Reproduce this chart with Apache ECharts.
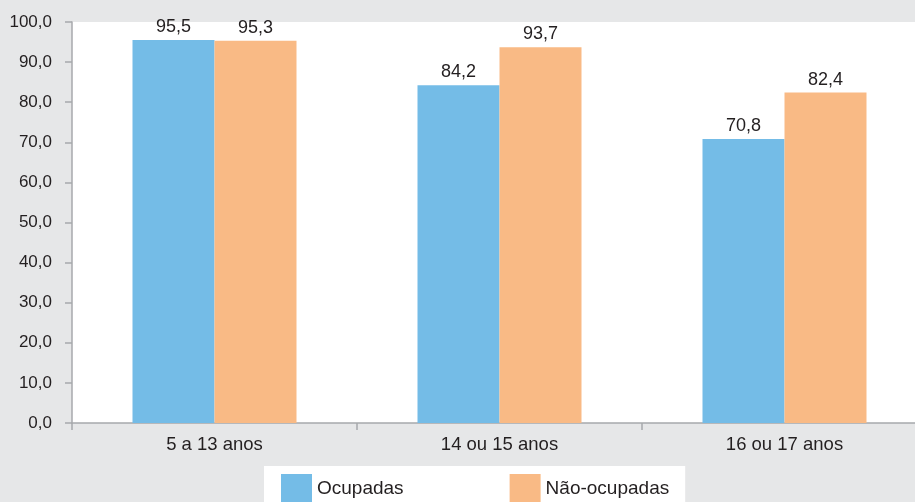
<!DOCTYPE html>
<html>
<head>
<meta charset="utf-8">
<script src="https://cdn.jsdelivr.net/npm/echarts@6/dist/echarts.min.js"></script>
<style>
html,body{margin:0;padding:0;background:#e6e7e8;overflow:hidden;width:915px;height:502px;}
#c{width:927px;height:502px;}
</style>
</head>
<body>
<div id="c"></div>
<script>
const categories = ['5 a 13 anos', '14 ou 15 anos', '16 ou 17 anos'];
const ocupadas = [95.5, 84.2, 70.8];
const naoOcupadas = [95.3, 93.7, 82.4];
const seriesNames = ['Ocupadas', 'Não-ocupadas'];

const fmt = v => v.toFixed(1).replace('.', ',');
const FONT = '"Liberation Sans", Arial, sans-serif';
const TXT = '#231f20';

const chart = echarts.init(document.getElementById('c'), null, {renderer: 'canvas'});
chart.setOption({
  animation: false,
  backgroundColor: '#e6e7e8',
  textStyle: {fontFamily: FONT},
  grid: {left: 72, right: 0, top: 22, bottom: 79, show: true, backgroundColor: '#ffffff', borderWidth: 0, containLabel: false},
  legend: {
    left: 264, top: 466,
    backgroundColor: '#ffffff',
    padding: [8, 16, 8, 17],
    itemWidth: 31, itemHeight: 30, itemGap: 106,
    icon: 'rect',
    textStyle: {fontFamily: FONT, fontSize: 19, color: TXT},
    data: seriesNames
  },
  xAxis: {
    type: 'category',
    data: categories,
    axisLine: {show: true, lineStyle: {color: '#a7a9ac', width: 1.5}},
    axisTick: {show: true, length: 7, lineStyle: {color: '#a7a9ac', width: 1.5}},
    axisLabel: {fontFamily: FONT, fontSize: 18.5, color: TXT, margin: 12},
    splitLine: {show: false}
  },
  yAxis: {
    type: 'value',
    min: 0, max: 100, interval: 10,
    axisLine: {show: true, lineStyle: {color: '#a7a9ac', width: 1.5}},
    axisTick: {show: true, length: 7, lineStyle: {color: '#a7a9ac', width: 1.5}},
    axisLabel: {fontFamily: FONT, fontSize: 17, color: TXT, margin: 20, formatter: v => fmt(v)},
    splitLine: {show: false}
  },
  series: [
    {
      name: seriesNames[0], type: 'bar', data: ocupadas, barWidth: 82, barGap: '0%',
      itemStyle: {color: '#74bce7'},
      label: {show: true, position: 'top', distance: 4, fontFamily: FONT, fontSize: 18, color: TXT, formatter: p => fmt(p.value)}
    },
    {
      name: seriesNames[1], type: 'bar', data: naoOcupadas, barWidth: 82, barGap: '0%',
      itemStyle: {color: '#f9ba85'},
      label: {show: true, position: 'top', distance: 4, fontFamily: FONT, fontSize: 18, color: TXT, formatter: p => fmt(p.value)}
    }
  ]
});
</script>
</body>
</html>
